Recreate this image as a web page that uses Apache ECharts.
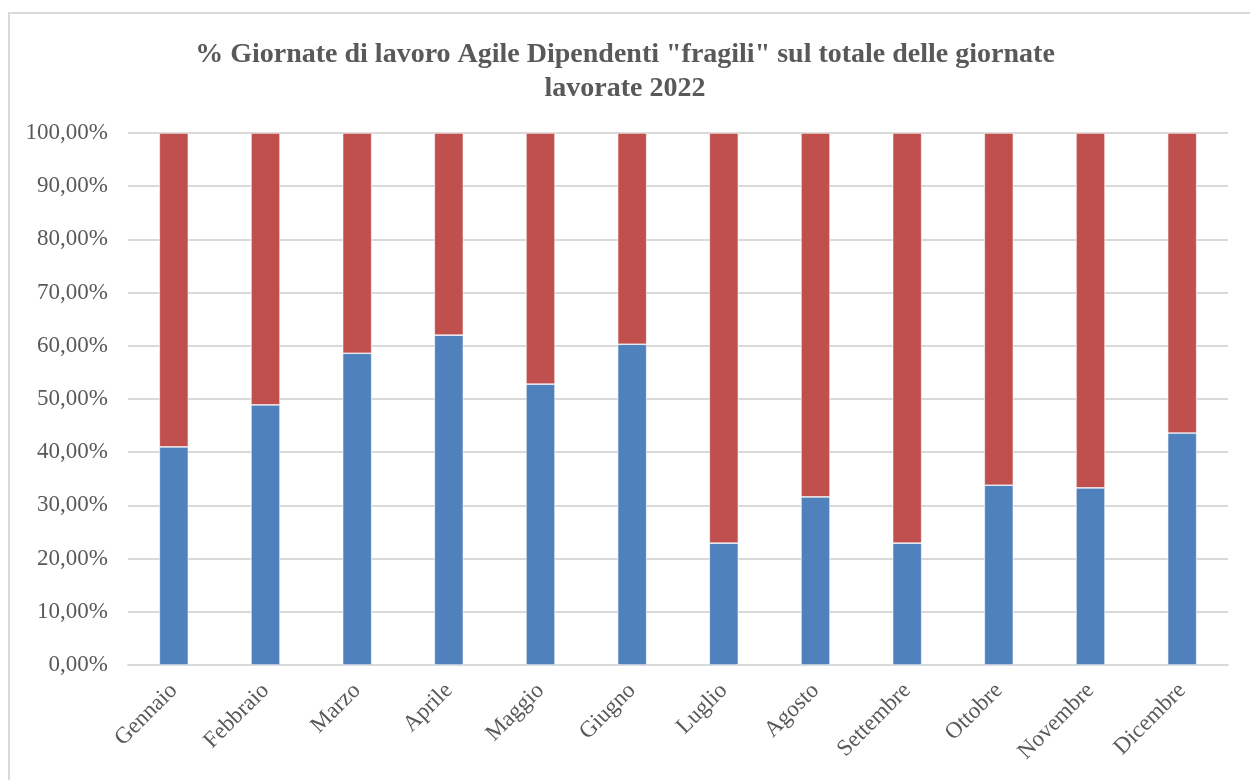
<!DOCTYPE html>
<html>
<head>
<meta charset="utf-8">
<script src="https://cdn.jsdelivr.net/npm/echarts@6/dist/echarts.min.js"></script>
<style>
  html, body { margin: 0; padding: 0; background: #fff; }
  #frame {
    position: absolute; left: 8px; top: 12px; width: 1250px; height: 780px;
    border: 2px solid #d9d9d9; box-sizing: border-box;
  }
  #chart { position: absolute; left: 0; top: 0; width: 1250px; height: 780px; }
</style>
</head>
<body>
<div id="frame"></div>
<div id="chart"></div>
<script>
// mesi
const mesi = ['Gennaio', 'Febbraio', 'Marzo', 'Aprile', 'Maggio', 'Giugno',
  'Luglio', 'Agosto', 'Settembre', 'Ottobre', 'Novembre', 'Dicembre'];
// % giornate agile dipendenti fragili
const agileFragili = [41.0, 48.9, 58.6, 62.0, 52.8, 60.3, 22.9, 31.6, 22.9, 33.8, 33.3, 43.6];
// resto delle giornate lavorate
const altreGiornate = [59.0, 51.1, 41.4, 38.0, 47.2, 39.7, 77.1, 68.4, 77.1, 66.2, 66.7, 56.4];

const serif = '"Liberation Serif", "DejaVu Serif", serif';
const grigio = '#595959';

var myChart = echarts.init(document.getElementById('chart'));
var option = {
  animation: false,
  title: {
    text: '% Giornate di lavoro Agile Dipendenti "fragili" sul totale delle giornate\nlavorate 2022',
    left: 'center',
    top: 33,
    textStyle: {
      fontFamily: serif,
      fontWeight: 'bold',
      fontSize: 28,
      color: grigio,
      lineHeight: 34
    }
  },
  grid: { left: 128, right: 22, top: 133, bottom: 115 },
  xAxis: {
    type: 'category',
    data: mesi,
    axisLine: { lineStyle: { color: '#d9d9d9', width: 2 } },
    axisTick: { show: false },
    axisLabel: {
      rotate: 45,
      interval: 0,
      margin: 22,
      fontFamily: serif,
      fontSize: 23,
      color: grigio
    }
  },
  yAxis: {
    type: 'value',
    min: 0,
    max: 100,
    interval: 10,
    axisLine: { show: false },
    axisTick: { show: false },
    splitLine: { lineStyle: { color: '#d9d9d9', width: 2 } },
    axisLabel: {
      margin: 20,
      fontFamily: serif,
      fontSize: 23,
      color: grigio,
      formatter: function (v) { return v.toFixed(2).replace('.', ',') + '%'; }
    }
  },
  series: [
    {
      name: 'Agile fragili',
      type: 'bar',
      stack: 'tot',
      barWidth: 29,
      data: agileFragili,
      itemStyle: { color: '#4f81bd', borderColor: '#ffffff', borderWidth: 0.6 }
    },
    {
      name: 'Altre giornate',
      type: 'bar',
      stack: 'tot',
      barWidth: 29,
      data: altreGiornate,
      itemStyle: { color: '#c0504d', borderColor: '#ffffff', borderWidth: 0.6 }
    }
  ]
};
myChart.setOption(option);
</script>
</body>
</html>
